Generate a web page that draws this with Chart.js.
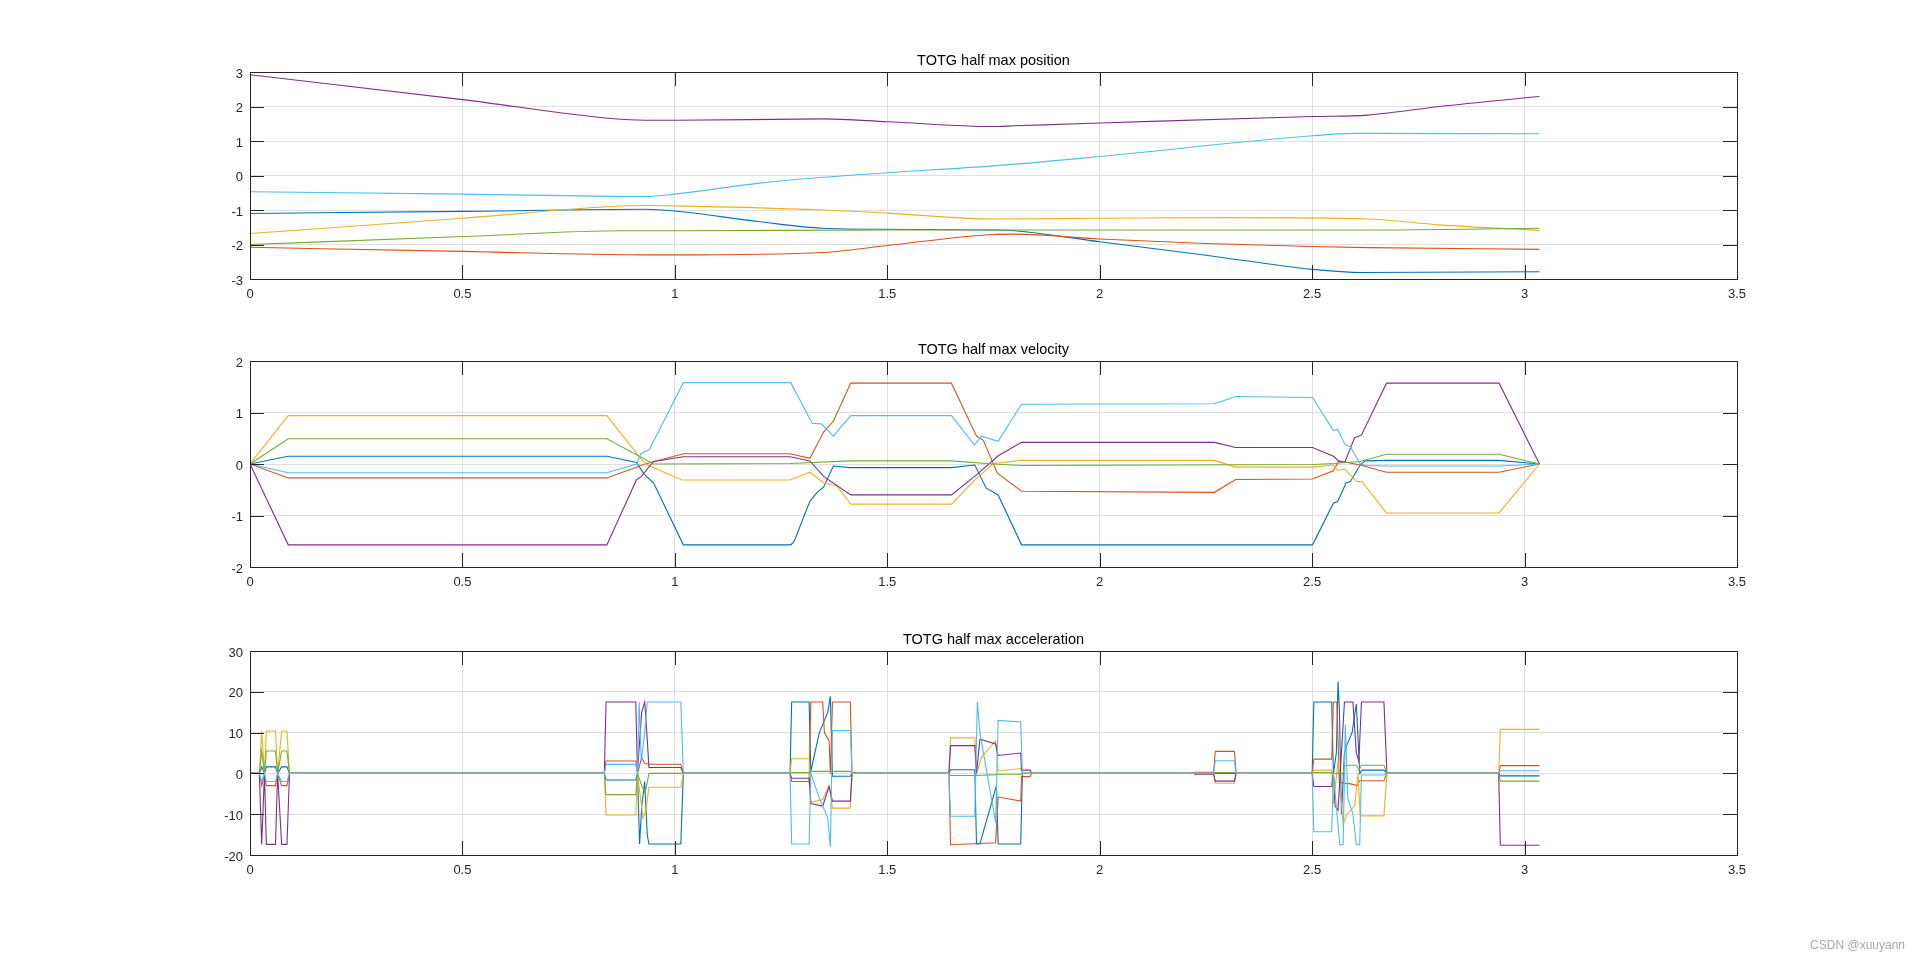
<!DOCTYPE html>
<html>
<head>
<meta charset="utf-8">
<script src="https://cdn.jsdelivr.net/npm/chart.js"></script>
<style>
	html, body { margin: 0; padding: 0; background: #fff; }
	#wrap { position: relative; width: 1920px; height: 962px; overflow: hidden; }
	#wrap canvas { position: absolute; left: 0; top: 0; }
	#mark { position: absolute; right: 15px; top: 938px; font: 12px 'Liberation Sans', Arial, sans-serif; color: #a8a8a8; }
</style>
</head>
<body>
<div id="wrap">
	<canvas id="posChart" width="1920" height="962"></canvas>
	<canvas id="velChart" width="1920" height="962"></canvas>
	<canvas id="accChart" width="1920" height="962"></canvas>
	<div id="mark">CSDN @xuuyann</div>
</div>
<script>
// MATLAB default line colours, in plot order
const seriesColors = ['#0072BD', '#D95319', '#EDB120', '#7E2F8E', '#77AC30', '#4DBEEE'];
const xTicks = [0, 0.5, 1, 1.5, 2, 2.5, 3, 3.5];
const posTicks = [-3, -2, -1, 0, 1, 2, 3];
const velTicks = [-2, -1, 0, 1, 2];
const accTicks = [-20, -10, 0, 10, 20, 30];
const titles = ['TOTG half max position', 'TOTG half max velocity', 'TOTG half max acceleration'];

// position, [t, value]
const posBlue = [[0,-1.10],[0.5,-1.04],[0.93,-0.98],[1.0,-1.03],[1.2,-1.34],[1.35,-1.53],[1.5,-1.56],[1.75,-1.58],[1.8,-1.60],[2.0,-1.92],[2.25,-2.31],[2.5,-2.72],[2.62,-2.81],[3.035,-2.79]];
const posOrange = [[0,-2.08],[0.5,-2.20],[0.93,-2.30],[1.0,-2.30],[1.35,-2.23],[1.5,-2.03],[1.75,-1.71],[1.8,-1.70],[2.0,-1.84],[2.25,-1.97],[2.5,-2.06],[2.63,-2.09],[3.035,-2.14]];
const posYellow = [[0,-1.68],[0.5,-1.24],[0.85,-0.90],[0.93,-0.87],[1.0,-0.88],[1.35,-1.0],[1.5,-1.09],[1.75,-1.26],[2.0,-1.24],[2.3,-1.22],[2.63,-1.26],[2.8,-1.43],[3.035,-1.59]];
const posPurple = [[0,2.92],[0.5,2.20],[0.85,1.65],[0.93,1.60],[1.0,1.60],[1.35,1.64],[1.5,1.56],[1.75,1.42],[1.8,1.44],[2.0,1.52],[2.5,1.71],[2.63,1.75],[2.8,2.0],[3.035,2.29]];
const posGreen = [[0,-2.0],[0.5,-1.77],[0.88,-1.60],[1.0,-1.60],[1.5,-1.58],[2.0,-1.58],[2.63,-1.58],[3.035,-1.53]];
const posLight = [[0,-0.47],[0.5,-0.54],[0.93,-0.61],[1.0,-0.54],[1.2,-0.22],[1.35,-0.05],[1.5,0.08],[1.75,0.28],[2.0,0.55],[2.5,1.15],[2.6,1.22],[3.035,1.21]];

// velocity
const velBlue = [[0,0],[0.09,0.15],[0.84,0.15],[0.91,0.03],[0.927,-0.19],[0.95,-0.37],[1.02,-1.57],[1.273,-1.57],[1.281,-1.5],[1.318,-0.72],[1.335,-0.55],[1.35,-0.45],[1.373,-0.04],[1.412,-0.07],[1.651,-0.07],[1.706,-0.02],[1.733,-0.47],[1.761,-0.6],[1.816,-1.57],[2.501,-1.57],[2.55,-0.76],[2.56,-0.73],[2.58,-0.37],[2.59,-0.34],[2.613,-0.02],[2.625,0.06],[2.675,0.07],[2.94,0.07],[3.035,0]];
const velOrange = [[0,0],[0.09,-0.27],[0.84,-0.27],[0.93,0],[1.02,0.2],[1.271,0.2],[1.318,0.11],[1.35,0.62],[1.373,0.83],[1.414,1.57],[1.651,1.57],[1.71,0.54],[1.726,0.46],[1.759,-0.18],[1.816,-0.53],[2.27,-0.55],[2.32,-0.3],[2.501,-0.29],[2.55,-0.13],[2.563,0.06],[2.613,-0.02],[2.675,-0.16],[2.94,-0.16],[3.035,0]];
const velYellow = [[0,0],[0.09,0.94],[0.84,0.94],[0.93,0],[1.017,-0.31],[1.271,-0.31],[1.318,-0.16],[1.35,-0.37],[1.38,-0.42],[1.414,-0.78],[1.651,-0.78],[1.71,-0.28],[1.75,0.01],[1.816,0.07],[2.27,0.07],[2.32,-0.06],[2.501,-0.06],[2.55,-0.02],[2.56,-0.12],[2.577,-0.1],[2.605,-0.34],[2.617,-0.34],[2.675,-0.95],[2.94,-0.95],[3.035,0]];
const velPurple = [[0,0],[0.09,-1.57],[0.84,-1.57],[0.91,-0.3],[0.92,-0.25],[0.95,0.05],[1.02,0.14],[1.271,0.14],[1.318,0.06],[1.35,-0.24],[1.414,-0.6],[1.651,-0.6],[1.71,-0.21],[1.761,0.16],[1.816,0.42],[2.27,0.42],[2.32,0.32],[2.501,0.32],[2.55,0.15],[2.565,0.04],[2.577,0.04],[2.6,0.51],[2.616,0.56],[2.675,1.57],[2.94,1.57],[3.035,0]];
const velGreen = [[0,0],[0.09,0.49],[0.84,0.49],[0.95,0],[1.271,0.01],[1.414,0.06],[1.651,0.06],[1.75,0],[1.816,-0.03],[2.501,-0.01],[2.55,0.01],[2.613,0.05],[2.675,0.19],[2.94,0.19],[3.035,0]];
const velLight = [[0,0],[0.09,-0.17],[0.84,-0.17],[0.91,0],[0.92,0.2],[0.94,0.28],[1.02,1.58],[1.273,1.58],[1.323,0.79],[1.345,0.78],[1.373,0.54],[1.414,0.94],[1.651,0.94],[1.705,0.37],[1.722,0.54],[1.761,0.44],[1.816,1.16],[2.27,1.17],[2.32,1.31],[2.501,1.29],[2.55,0.65],[2.56,0.67],[2.577,0.38],[2.59,0.33],[2.613,0.01],[2.625,-0.03],[2.675,-0.04],[2.94,-0.04],[3.035,0]];

// acceleration
const accBlue = [[0,0],[0.022,0],[0.0275,1.6],[0.034,0],[0.0385,1.6],[0.060,1.6],[0.065,0],[0.0745,1.6],[0.087,1.6],[0.093,0],
	[0.834,0],[0.838,-1.6],[0.908,-1.6],[0.912,0],[0.917,-17.3],[0.922,-8],[0.929,-2],[0.935,-15],[0.939,-17.3],[1.014,-17.3],[1.020,0],
	[1.271,0],[1.275,17.5],[1.316,17.5],[1.320,0.5],[1.340,10],[1.360,15],[1.366,18.9],[1.371,-0.7],[1.413,-0.7],[1.417,0],
	[1.645,0],[1.649,0.9],[1.706,0.9],[1.710,-17.3],[1.718,-17.3],[1.757,-3],[1.761,-17.3],[1.814,-17.3],[1.818,0],
	[2.500,0],[2.504,17.5],[2.546,17.5],[2.550,0],[2.557,5],[2.561,22.5],[2.564,16],[2.569,-10],[2.576,5],[2.582,7],[2.594,10],[2.604,17],[2.612,0],[2.618,0.8],[2.669,0.8],[2.676,0],
	[2.939,0],[2.943,-0.6],[3.035,-0.6]];
const accOrange = [[0,0],[0.022,0],[0.0275,-3],[0.034,0],[0.0385,-3],[0.060,-3],[0.065,0],[0.0745,-3],[0.087,-3],[0.093,0],
	[0.834,0],[0.838,3.05],[0.908,3.05],[0.912,0],[0.922,3.9],[0.929,2.4],[0.939,2.25],[1.014,2.25],[1.020,0],
	[1.271,0],[1.275,-2],[1.316,-2],[1.320,17.5],[1.348,17.5],[1.352,10],[1.363,8],[1.366,0],[1.371,17.5],[1.413,17.5],[1.417,0],
	[1.645,0],[1.649,-17.5],[1.755,-17],[1.761,-5.8],[1.814,-6.8],[1.816,-0.8],[1.836,-0.8],[1.840,0],
	[2.222,0],[2.224,0.3],[2.268,0.3],[2.272,5.4],[2.317,5.4],[2.321,0],
	[2.500,0],[2.504,3.5],[2.546,3.5],[2.550,17.5],[2.558,17.5],[2.564,-2],[2.576,-2.5],[2.588,-2.5],[2.606,-3],[2.612,-1.8],[2.669,-1.8],[2.676,0],
	[2.939,0],[2.943,1.9],[3.035,1.9]];
const accYellow = [[0,0],[0.022,0],[0.0275,10.4],[0.034,0],[0.0385,10.4],[0.060,10.4],[0.065,0],[0.0745,10.4],[0.087,10.4],[0.093,0],
	[0.834,0],[0.838,-10.2],[0.908,-10.2],[0.912,0],[0.925,-11],[0.932,-9],[0.939,-3.4],[1.014,-3.4],[1.020,0],
	[1.271,0],[1.275,3.6],[1.316,3.6],[1.320,-7.1],[1.348,-6.4],[1.363,-3],[1.371,-8.5],[1.413,-8.5],[1.417,0],
	[1.645,0],[1.649,8.7],[1.706,8.7],[1.710,0],[1.722,4],[1.755,8],[1.761,0.6],[1.814,1.2],[1.818,0],
	[2.268,0],[2.272,-2.4],[2.317,-2.4],[2.321,0],
	[2.500,0],[2.504,0.8],[2.546,0.8],[2.550,-7.5],[2.561,3],[2.573,-12.5],[2.582,-10],[2.600,-8],[2.608,0],[2.613,-10.4],[2.669,-10.4],[2.676,0],
	[2.939,0],[2.943,10.8],[3.035,10.8]];
const accPurple = [[0,0],[0.022,0],[0.0275,-17.4],[0.034,0],[0.0385,-17.4],[0.060,-17.4],[0.065,0],[0.0745,-17.4],[0.087,-17.4],[0.093,0],
	[0.834,0],[0.838,17.5],[0.908,17.5],[0.912,0.5],[0.922,15],[0.929,17.5],[0.934,10],[0.939,1.45],[1.014,1.45],[1.020,0],
	[1.271,0],[1.275,-1.2],[1.316,-1.2],[1.320,-7.4],[1.348,-8],[1.363,-3.2],[1.371,-6.8],[1.413,-6.8],[1.417,0],
	[1.645,0],[1.649,6.8],[1.706,6.8],[1.710,0],[1.718,8.4],[1.755,7.2],[1.761,4.4],[1.814,5],[1.816,0.8],[1.836,0.8],[1.840,0],
	[2.222,0],[2.224,-0.2],[2.268,-0.2],[2.272,-1.9],[2.317,-1.9],[2.321,0],
	[2.500,0],[2.504,-3.2],[2.546,-3.2],[2.550,0],[2.554,-8],[2.561,-9],[2.576,17.5],[2.596,17.5],[2.604,5],[2.610,3],[2.616,17.5],[2.669,17.5],[2.676,0],
	[2.939,0],[2.943,-17.6],[3.035,-17.6]];
const accGreen = [[0,0],[0.022,0],[0.0275,5.5],[0.034,0],[0.0385,5.5],[0.060,5.5],[0.065,0],[0.0745,5.5],[0.087,5.5],[0.093,0],
	[0.834,0],[0.838,-5.2],[0.908,-5.2],[0.912,0],[0.922,-3],[0.930,-4.8],[0.939,0],
	[1.271,0],[1.275,0.2],[1.316,0.2],[1.320,0.5],[1.413,0.5],[1.417,0],
	[1.645,0],[1.649,-0.5],[1.706,-0.5],[1.757,-0.3],[1.761,-0.2],[1.814,-0.2],[1.818,0],
	[2.268,0],[2.272,0.2],[2.317,0.2],[2.321,0],
	[2.500,0],[2.504,0.2],[2.546,0.2],[2.550,0],[2.573,0],[2.577,2],[2.604,2],[2.610,0.8],[2.616,2],[2.669,2],[2.676,0],
	[2.939,0],[2.943,-1.9],[3.035,-1.9]];
const accLight = [[0,0],[0.022,0],[0.0275,-2],[0.034,0],[0.0385,-2],[0.060,-2],[0.065,0],[0.0745,-2],[0.087,-2],[0.093,0],
	[0.834,0],[0.838,2.2],[0.908,2.2],[0.912,0],[0.916,17.5],[0.921,3],[0.929,10],[0.935,17.5],[1.014,17.5],[1.020,0],
	[1.271,0],[1.275,-17.3],[1.316,-17.3],[1.320,0],[1.340,-6],[1.360,-11],[1.366,-18],[1.371,10.5],[1.413,10.5],[1.417,0],
	[1.645,0],[1.649,-10.5],[1.706,-10.5],[1.712,17.5],[1.718,10],[1.755,-12],[1.761,13],[1.814,12.6],[1.818,0],
	[2.268,0],[2.272,3.1],[2.317,3.1],[2.321,0],
	[2.500,0],[2.504,-14.3],[2.546,-14.3],[2.550,0],[2.565,-17.5],[2.573,-17.5],[2.578,12],[2.584,-6],[2.596,-10],[2.604,-17.5],[2.612,-17.5],[2.616,-0.4],[2.669,-0.4],[2.676,0],
	[2.939,0],[2.943,0.65],[3.035,0.65]];

Chart.defaults.font.family = "'Liberation Sans', Arial, sans-serif";
Chart.defaults.color = '#262626';

// box, inward ticks on all four sides, and the title
const matlabAxes = {
	id: 'matlabAxes',
	afterDraw(chart, args, opts) {
		const {ctx, chartArea: a, scales} = chart;
		const L = 14;
		ctx.save();
		ctx.strokeStyle = '#262626';
		ctx.lineWidth = 1;
		ctx.beginPath();
		scales.x.ticks.forEach(t => {
			const px = Math.round(scales.x.getPixelForValue(t.value)) + 0.5;
			ctx.moveTo(px, a.bottom); ctx.lineTo(px, a.bottom - L);
			ctx.moveTo(px, a.top); ctx.lineTo(px, a.top + L);
		});
		scales.y.ticks.forEach(t => {
			const py = Math.round(scales.y.getPixelForValue(t.value)) + 0.5;
			ctx.moveTo(a.left, py); ctx.lineTo(a.left + L, py);
			ctx.moveTo(a.right, py); ctx.lineTo(a.right - L, py);
		});
		ctx.stroke();
		ctx.strokeRect(Math.round(a.left) + 0.5, Math.round(a.top) + 0.5, Math.round(a.right - a.left), Math.round(a.bottom - a.top));
		ctx.fillStyle = '#000';
		ctx.font = "14.5px 'Liberation Sans', Arial, sans-serif";
		ctx.textAlign = 'center';
		ctx.textBaseline = 'middle';
		ctx.fillText(opts.text, (a.left + a.right) / 2, a.top - 11);
		ctx.restore();
	}
};

function toPts(arr) {
	return arr.map(p => ({x: p[0], y: p[1]}));
}

function makeChart(id, title, series, yTicks, top, bottom, smooth) {
	const datasets = series.map((s, i) => ({
		data: toPts(s),
		borderColor: seriesColors[i],
		borderWidth: 1.1,
		pointRadius: 0,
		fill: false,
		order: series.length - i,
		tension: 0,
		cubicInterpolationMode: smooth ? 'monotone' : 'default'
	}));
	return new Chart(document.getElementById(id), {
		type: 'line',
		data: {datasets: datasets},
		plugins: [matlabAxes],
		options: {
			responsive: false,
			animation: false,
			events: [],
			layout: {padding: {left: 210, right: 183, top: top, bottom: 962 - bottom - 30}},
			plugins: {
				legend: {display: false},
				tooltip: {enabled: false},
				matlabAxes: {text: title}
			},
			scales: {
				x: {
					type: 'linear',
					min: xTicks[0],
					max: xTicks[xTicks.length - 1],
					afterBuildTicks: s => { s.ticks = xTicks.map(v => ({value: v})); },
					afterFit: s => { s.height = 30; },
					ticks: {padding: 8, font: {size: 13}, callback: v => String(v)},
					grid: {color: '#dfdfdf', drawTicks: false},
					border: {display: false}
				},
				y: {
					min: yTicks[0],
					max: yTicks[yTicks.length - 1],
					afterBuildTicks: s => { s.ticks = yTicks.map(v => ({value: v})); },
					afterFit: s => { s.width = 40; },
					ticks: {padding: 7, labelOffset: 2, font: {size: 13}, callback: v => String(v)},
					grid: {color: '#dfdfdf', drawTicks: false},
					border: {display: false}
				}
			}
		}
	});
}

makeChart('posChart', titles[0], [posBlue, posOrange, posYellow, posPurple, posGreen, posLight], posTicks, 72, 279, true);
makeChart('velChart', titles[1], [velBlue, velOrange, velYellow, velPurple, velGreen, velLight], velTicks, 361, 567, false);
makeChart('accChart', titles[2], [accBlue, accOrange, accYellow, accPurple, accGreen, accLight], accTicks, 651, 855, false);
</script>
</body>
</html>
